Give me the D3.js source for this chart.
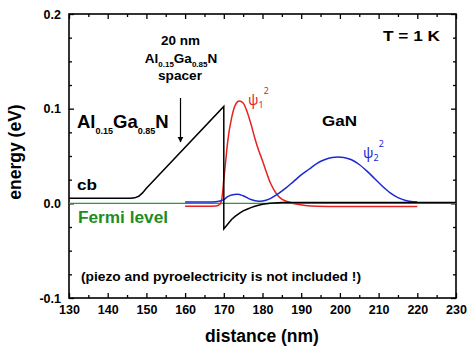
<!DOCTYPE html>
<html>
<head>
<meta charset="utf-8">
<script src="https://cdn.jsdelivr.net/npm/d3@7"></script>
<style>
  body { margin: 0; background: #fff; }
  svg text { font-family: "Liberation Sans", Arial, sans-serif; font-weight: bold; }
  .tick text { font-size: 12.5px; fill: #000; }
</style>
</head>
<body>
<svg width="470" height="350"></svg>
<script>
// conduction band edge (eV) vs distance (nm)
var cbX = [130, 146, 147, 148, 149, 150, 170, 170, 171, 172, 173, 174, 175, 176, 177, 178, 180, 182, 185, 190, 230];
var cbY = [0.0053, 0.0053, 0.0058, 0.0075, 0.011, 0.016, 0.1024, -0.027, -0.022, -0.017, -0.0135, -0.0105, -0.008, -0.0062, -0.0045, -0.003, -0.001, 0.0, 0.0008, 0.001, 0.001];

// psi1^2 (red)
var psi1X = [160, 165, 168, 169, 169.5, 170, 170.5, 171, 172, 173, 174, 175, 176, 177, 178, 179, 180, 181, 182, 183, 184, 185, 187, 189, 191, 194, 200, 210, 220];
var psi1Y = [-0.003, -0.003, -0.0028, -0.001, 0.005, 0.025, 0.045, 0.065, 0.09, 0.104, 0.108, 0.106, 0.097, 0.084, 0.069, 0.056, 0.045, 0.033, 0.022, 0.014, 0.008, 0.0045, 0.0012, -0.001, -0.0022, -0.003, -0.0033, -0.0033, -0.0033];

// psi2^2 (blue)
var psi2X = [160, 166, 168, 170, 171, 172, 173.5, 175, 177, 179, 180, 182, 184, 186, 188, 190, 192, 194, 196, 198, 199.5, 201, 203, 205, 207, 209, 211, 213, 215, 217, 219, 220];
var psi2Y = [0.0015, 0.0015, 0.0018, 0.004, 0.007, 0.0088, 0.0095, 0.008, 0.004, 0.0023, 0.0025, 0.005, 0.010, 0.016, 0.023, 0.030, 0.036, 0.042, 0.046, 0.0485, 0.049, 0.0485, 0.046, 0.041, 0.034, 0.026, 0.018, 0.011, 0.006, 0.003, 0.0017, 0.0015];

// Fermi level
var fermiX = [130, 230];
var fermiY = [0, 0];

var xTicks = [130, 140, 150, 160, 170, 180, 190, 200, 210, 220, 230];
var yTicks = [-0.1, 0.0, 0.1, 0.2];

var svg = d3.select("svg");
var pLeft = 69, pRight = 456, pTop = 14, pBottom = 298;

var x = d3.scaleLinear().domain([130, 230]).range([pLeft, pRight]);
var y = d3.scaleLinear().domain([-0.1, 0.2]).range([pBottom, pTop]);

function pts(xs, ys) { return xs.map(function(v, i) { return [v, ys[i]]; }); }

var xMinor = d3.range(135, 230, 10);
var yMinor = d3.range(-0.1, 0.2001, 0.025).filter(function(v) {
  return Math.abs(v * 10 - Math.round(v * 10)) > 1e-6;
});

// bottom axis
svg.append("g")
  .attr("transform", "translate(0," + pBottom + ")")
  .call(d3.axisBottom(x).tickValues(xTicks).tickSize(-5).tickPadding(7).tickFormat(d3.format("d")));
svg.append("g")
  .attr("transform", "translate(0," + pBottom + ")")
  .call(d3.axisBottom(x).tickValues(xMinor).tickSize(-3).tickFormat(""));
// top axis
svg.append("g")
  .attr("transform", "translate(0," + pTop + ")")
  .call(d3.axisTop(x).tickValues(xTicks).tickSize(-5).tickFormat(""));
svg.append("g")
  .attr("transform", "translate(0," + pTop + ")")
  .call(d3.axisTop(x).tickValues(xMinor).tickSize(-3).tickFormat(""));
// left axis
svg.append("g")
  .attr("transform", "translate(" + pLeft + ",0)")
  .call(d3.axisLeft(y).tickValues(yTicks).tickSize(-5).tickPadding(8).tickFormat(function(d) { return d.toFixed(1); }));
svg.append("g")
  .attr("transform", "translate(" + pLeft + ",0)")
  .call(d3.axisLeft(y).tickValues(yMinor).tickSize(-3).tickFormat(""));
// right axis
svg.append("g")
  .attr("transform", "translate(" + pRight + ",0)")
  .call(d3.axisRight(y).tickValues(yTicks).tickSize(-5).tickFormat(""));
svg.append("g")
  .attr("transform", "translate(" + pRight + ",0)")
  .call(d3.axisRight(y).tickValues(yMinor).tickSize(-3).tickFormat(""));

svg.selectAll(".domain").remove();
svg.selectAll(".tick line").attr("stroke", "#000").attr("stroke-width", 1.3);

svg.append("rect")
  .attr("x", pLeft).attr("y", pTop)
  .attr("width", pRight - pLeft).attr("height", pBottom - pTop)
  .attr("fill", "none").attr("stroke", "#000").attr("stroke-width", 1.6);

// lines
var line = d3.line().x(function(d) { return x(d[0]); }).y(function(d) { return y(d[1]); });
var smooth = d3.line().curve(d3.curveMonotoneX).x(function(d) { return x(d[0]); }).y(function(d) { return y(d[1]); });

svg.append("path").attr("d", line(pts(fermiX, fermiY)))
  .attr("fill", "none").attr("stroke", "#2e9a2e").attr("stroke-width", 1.3);
svg.append("path").attr("d", smooth(pts(psi1X, psi1Y)))
  .attr("fill", "none").attr("stroke", "#e52222").attr("stroke-width", 1.5);
svg.append("path").attr("d", smooth(pts(psi2X, psi2Y)))
  .attr("fill", "none").attr("stroke", "#1c28d6").attr("stroke-width", 1.5);
svg.append("path").attr("d", line(pts(cbX, cbY)))
  .attr("fill", "none").attr("stroke", "#000").attr("stroke-width", 1.5);

// axis titles
svg.append("text")
  .attr("text-anchor", "middle")
  .attr("x", 262).attr("y", 342)
  .style("font-size", "17.5px")
  .text("distance (nm)");
svg.append("text")
  .attr("text-anchor", "middle")
  .attr("transform", "rotate(-90)")
  .attr("x", -152).attr("y", 21)
  .style("font-size", "17.5px")
  .text("energy (eV)");

// annotations
function label(txt, xpos, ypos, size, len, color) {
  return svg.append("text").attr("x", xpos).attr("y", ypos)
    .style("font-size", size + "px")
    .attr("textLength", len).attr("lengthAdjust", "spacingAndGlyphs")
    .attr("fill", color || "#000").text(txt);
}
label("T = 1 K", 383, 41, 15, 57);
label("GaN", 322, 126, 15, 35);
label("cb", 77, 190, 15.5, 20);
label("Fermi level", 78, 223, 16, 90, "#1f8c1f");
label("(piezo and pyroelectricity is not included !)", 81, 281, 12, 280);

function alloy(g, xpos, ypos, big, small, anchor) {
  var t = g.append("text").attr("x", xpos).attr("y", ypos)
    .attr("text-anchor", anchor).style("font-size", big + "px");
  var drop = big * 0.32;
  t.append("tspan").text("Al");
  t.append("tspan").attr("dy", drop).style("font-size", small + "px").text("0.15");
  t.append("tspan").attr("dy", -drop).text("Ga");
  t.append("tspan").attr("dy", drop).style("font-size", small + "px").text("0.85");
  t.append("tspan").attr("dy", -drop).text("N");
}
alloy(svg, 77, 128, 18.5, 9, "start");

label("20 nm", 161, 45, 12.5, 39);
alloy(svg, 181, 63, 13.5, 8, "middle");
label("spacer", 158, 80, 12.5, 44);

// arrow
svg.append("defs").append("marker")
  .attr("id", "head").attr("viewBox", "0 0 10 10")
  .attr("refX", 9).attr("refY", 5)
  .attr("markerWidth", 6).attr("markerHeight", 8)
  .attr("markerUnits", "userSpaceOnUse")
  .attr("orient", "auto")
  .append("path").attr("d", "M0,0 L10,5 L0,10 Z").attr("fill", "#000");
svg.append("line")
  .attr("x1", 180.5).attr("y1", 98).attr("x2", 180.5).attr("y2", 142)
  .attr("stroke", "#000").attr("stroke-width", 1.2)
  .attr("marker-end", "url(#head)");

// psi labels
function psi(g, xpos, ypos, sub, color) {
  var t = g.append("text").attr("x", xpos).attr("y", ypos)
    .attr("fill", color)
    .style("font-family", "'Noto Sans', 'DejaVu Sans', sans-serif")
    .style("font-weight", "normal")
    .style("font-size", "14px");
  t.append("tspan").text("\u03C8");
  t.append("tspan").attr("dy", 3).style("font-size", "9px").text(sub);
  t.append("tspan").attr("dy", -14).style("font-size", "9px").text("2");
}
psi(svg, 248, 105, "1", "#e52222");
psi(svg, 363, 158, "2", "#1c28d6");
</script>
</body>
</html>
